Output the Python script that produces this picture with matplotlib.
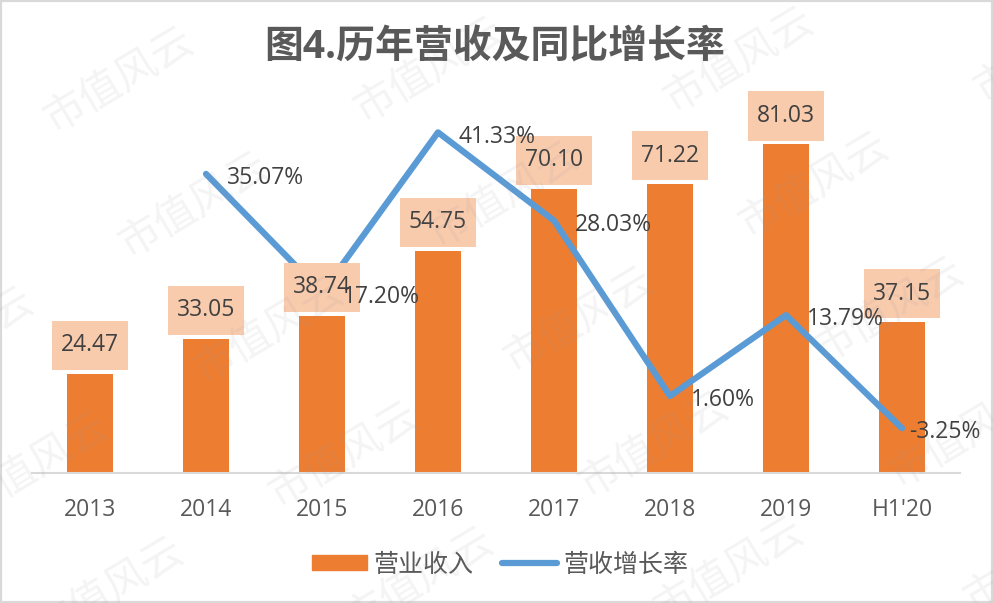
import numpy as np
import matplotlib
matplotlib.use("Agg")
import matplotlib.pyplot as plt
from matplotlib.patches import Rectangle
from matplotlib.lines import Line2D
from matplotlib.path import Path

plt.rcParams['font.family'] = ['Open Sans', 'Noto Sans CJK SC', 'DejaVu Sans']

# data
categories = ['2013', '2014', '2015', '2016', '2017', '2018', '2019', "H1'20"]
revenue = [24.47, 33.05, 38.74, 54.75, 70.10, 71.22, 81.03, 37.15]          # 营业收入
growth = [np.nan, 35.07, 17.20, 41.33, 28.03, 1.60, 13.79, -3.25]          # 营收增长率 (%)
series_names = ['营业收入', '营收增长率']
title = '图4.历年营收及同比增长率'

BAR_C = '#ED7D31'
BOX_C = '#F8CBAD'
LINE_C = '#5B9BD5'
TXT_C = '#404040'
AXT_C = '#595959'


def label_box(x0, y0, width, height, mutation_size):
    # excel-like data label box: a bit more padding vertically
    px, py = 0.4 * mutation_size, 0.55 * mutation_size
    x0, y0 = x0 - px, y0 - py
    x1, y1 = x0 + width + 2 * px, y0 + height + 2 * py
    return Path([(x0, y0), (x1, y0), (x1, y1), (x0, y1), (x0, y0)],
                closed=True)


W, H = 993, 603
fig = plt.figure(figsize=(W / 100, H / 100), dpi=100)
fig.patch.set_facecolor('white')

# plot area in pixels: x 32..960, y 108..473
ax = fig.add_axes([32 / W, 1 - 473 / H, 928 / W, 365 / H])
x = np.arange(len(categories))
ax.bar(x, revenue, width=0.4, color=BAR_C, zorder=2)
ax.set_xlim(-0.5, len(categories) - 0.5)
ax.set_ylim(0, 90)
ax.set_yticks([])
ax.set_xticks(x)
ax.set_xticklabels(categories)
ax.tick_params(axis='x', length=0, labelsize=16.5, colors=AXT_C, pad=18)
for s in ['top', 'left', 'right']:
    ax.spines[s].set_visible(False)
ax.spines['bottom'].set_color('#D9D9D9')
ax.spines['bottom'].set_linewidth(1.5)

ax2 = ax.twinx()
ax2.set_ylim(-10, 45)
ax2.set_yticks([])
for s in ax2.spines.values():
    s.set_visible(False)
ax2.plot(x, growth, color=LINE_C, lw=4.5, solid_capstyle='round',
         solid_joinstyle='round', zorder=2)

# bar value labels (boxes sit above the line)
for xi, v in zip(x, revenue):
    ax2.annotate(f'{v:.2f}', xy=(xi, v), xycoords=ax.transData,
                 xytext=(0, 20.5), textcoords='offset points',
                 ha='center', va='center', fontsize=16.5, color=TXT_C, zorder=3,
                 bbox=dict(boxstyle=label_box, fc=BOX_C, ec='none'))

# growth labels to the right of each point
for i, (xi, g) in enumerate(zip(x, growth)):
    if np.isnan(g):
        continue
    dx = 5 if i == len(x) - 1 else 15
    ax2.annotate(f'{g:.2f}%', xy=(xi, g), xytext=(dx, -3), textcoords='offset points',
                 ha='left', va='center', fontsize=16.5, color=TXT_C, zorder=4)

fig.text(495 / W, 1 - 48 / H, title, ha='center', va='center', fontsize=28,
         fontweight='bold', color=AXT_C)

handles = [Rectangle((0, 0), 1, 1, color=BAR_C),
           Line2D([0], [0], color=LINE_C, lw=4.5, solid_capstyle='round')]
fig.legend(handles, series_names, loc='center', bbox_to_anchor=(500 / W, 1 - 565 / H),
           ncol=2, frameon=False, fontsize=18, labelcolor=AXT_C, handlelength=2.2,
           handleheight=0.52, handletextpad=0.25, columnspacing=1.15)

# faint diagonal watermark grid
for i in range(-2, 5):
    for j in range(-2, 7):
        px = 120 + 310 * i + 75 * j
        py = 80 - 10 * i + 125 * j
        if -120 < px < W + 120 and -60 < py < H + 60:
            fig.text(px / W, 1 - py / H, '市值风云', rotation=31, rotation_mode='anchor',
                     ha='center', va='center', fontsize=30, color='#9A9A9A', alpha=0.11,
                     family='Noto Sans CJK SC', fontweight='light', zorder=10)

fig.patches.append(Rectangle((0, 0), 1, 1, transform=fig.transFigure, fill=False,
                             edgecolor='#D9D9D9', lw=3))

fig.savefig('out.png', dpi=100)
